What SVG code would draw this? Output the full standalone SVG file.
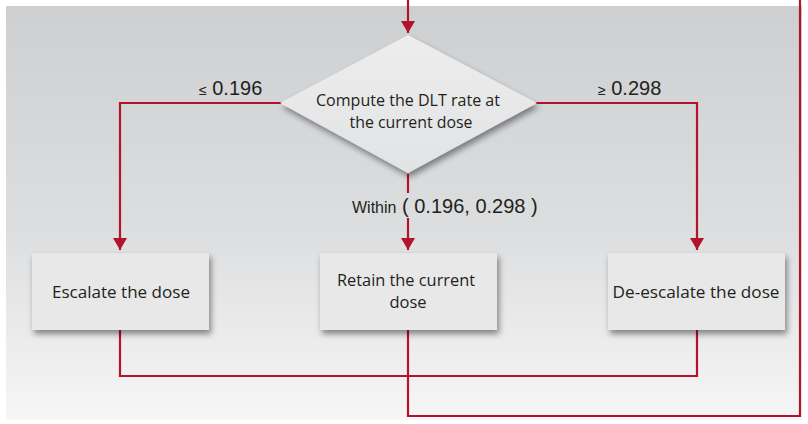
<svg xmlns="http://www.w3.org/2000/svg" width="808" height="424" viewBox="0 0 808 424">
  <defs>
    <linearGradient id="bg" x1="0" y1="0" x2="0" y2="1">
      <stop offset="0" stop-color="#cdcfd1"/>
      <stop offset="0.55" stop-color="#dddedf"/>
      <stop offset="0.85" stop-color="#eeeeef"/>
      <stop offset="1" stop-color="#f6f6f6"/>
    </linearGradient>
    <linearGradient id="dia" x1="0" y1="0" x2="0" y2="1">
      <stop offset="0" stop-color="#ededee"/>
      <stop offset="1" stop-color="#e2e3e4"/>
    </linearGradient>
    <filter id="sh" x="-10%" y="-10%" width="130%" height="140%">
      <feGaussianBlur in="SourceAlpha" stdDeviation="3"/>
      <feOffset dx="2" dy="4" result="b"/>
      <feComponentTransfer><feFuncA type="linear" slope="0.45"/></feComponentTransfer>
      <feMerge><feMergeNode/><feMergeNode in="SourceGraphic"/></feMerge>
    </filter>
    <marker id="arr" viewBox="0 0 12 14" refX="12" refY="7" markerWidth="12" markerHeight="14" markerUnits="userSpaceOnUse" orient="auto">
      <path d="M0,0 L12,7 L0,14 Z" fill="#b3142c"/>
    </marker>
  </defs>
  <style>
    .ln { fill: none; stroke: #b3142c; stroke-width: 2.2; }
    .box { fill: #e8e8e9; }
    .t { font-family: "Open Sans", "Noto Sans", sans-serif; font-size: 16.5px; fill: #231f20; text-anchor: middle; }
    .lbl { font-family: "Liberation Sans", Arial, sans-serif; font-size: 20px; fill: #231f20; }
  </style>
  <rect x="0" y="0" width="808" height="424" fill="#ffffff"/>
  <rect x="6" y="6" width="796" height="414" fill="url(#bg)"/>

  <g id="connectors">
    <line class="ln" x1="408" y1="0" x2="408" y2="33" marker-end="url(#arr)"/>
    <polyline class="ln" points="282,103 120,103 120,250" marker-end="url(#arr)"/>
    <polyline class="ln" points="534,103 697,103 697,250" marker-end="url(#arr)"/>
    <line class="ln" x1="408" y1="174" x2="408" y2="193"/>
    <line class="ln" x1="408" y1="218" x2="408" y2="250" marker-end="url(#arr)"/>
    <polyline class="ln" points="120,330 120,376 697,376 697,330"/>
    <polyline class="ln" points="408,330 408,416 800,416 800,0"/>
  </g>

  <g id="decision">
    <polygon points="408,35 537,103 408,173 280,103" fill="url(#dia)" filter="url(#sh)"/>
    <text class="t" x="408" y="106" textLength="184" lengthAdjust="spacingAndGlyphs">Compute the DLT rate at</text>
    <text class="t" x="411" y="128" textLength="123" lengthAdjust="spacingAndGlyphs">the current dose</text>
  </g>

  <g id="escalate">
    <rect class="box" x="32" y="253" width="177" height="77" filter="url(#sh)"/>
    <text class="t" x="121" y="298" textLength="138" lengthAdjust="spacingAndGlyphs">Escalate the dose</text>
  </g>
  <g id="retain">
    <rect class="box" x="320" y="253" width="177" height="77" filter="url(#sh)"/>
    <text class="t" x="406" y="286" textLength="138" lengthAdjust="spacingAndGlyphs">Retain the current</text>
    <text class="t" x="408" y="308">dose</text>
  </g>
  <g id="deescalate">
    <rect class="box" x="608" y="253" width="177" height="77" filter="url(#sh)"/>
    <text class="t" x="696" y="298" textLength="167" lengthAdjust="spacingAndGlyphs">De-escalate the dose</text>
  </g>

  <g id="labels">
    <text class="lbl" x="199" y="95"><tspan font-size="14">≤</tspan> 0.196</text>
    <text class="lbl" x="598" y="95"><tspan font-size="14">≥</tspan> 0.298</text>
    <text class="lbl" x="352" y="213"><tspan font-size="16">Within</tspan> ( 0.196, 0.298 )</text>
  </g>
</svg>
